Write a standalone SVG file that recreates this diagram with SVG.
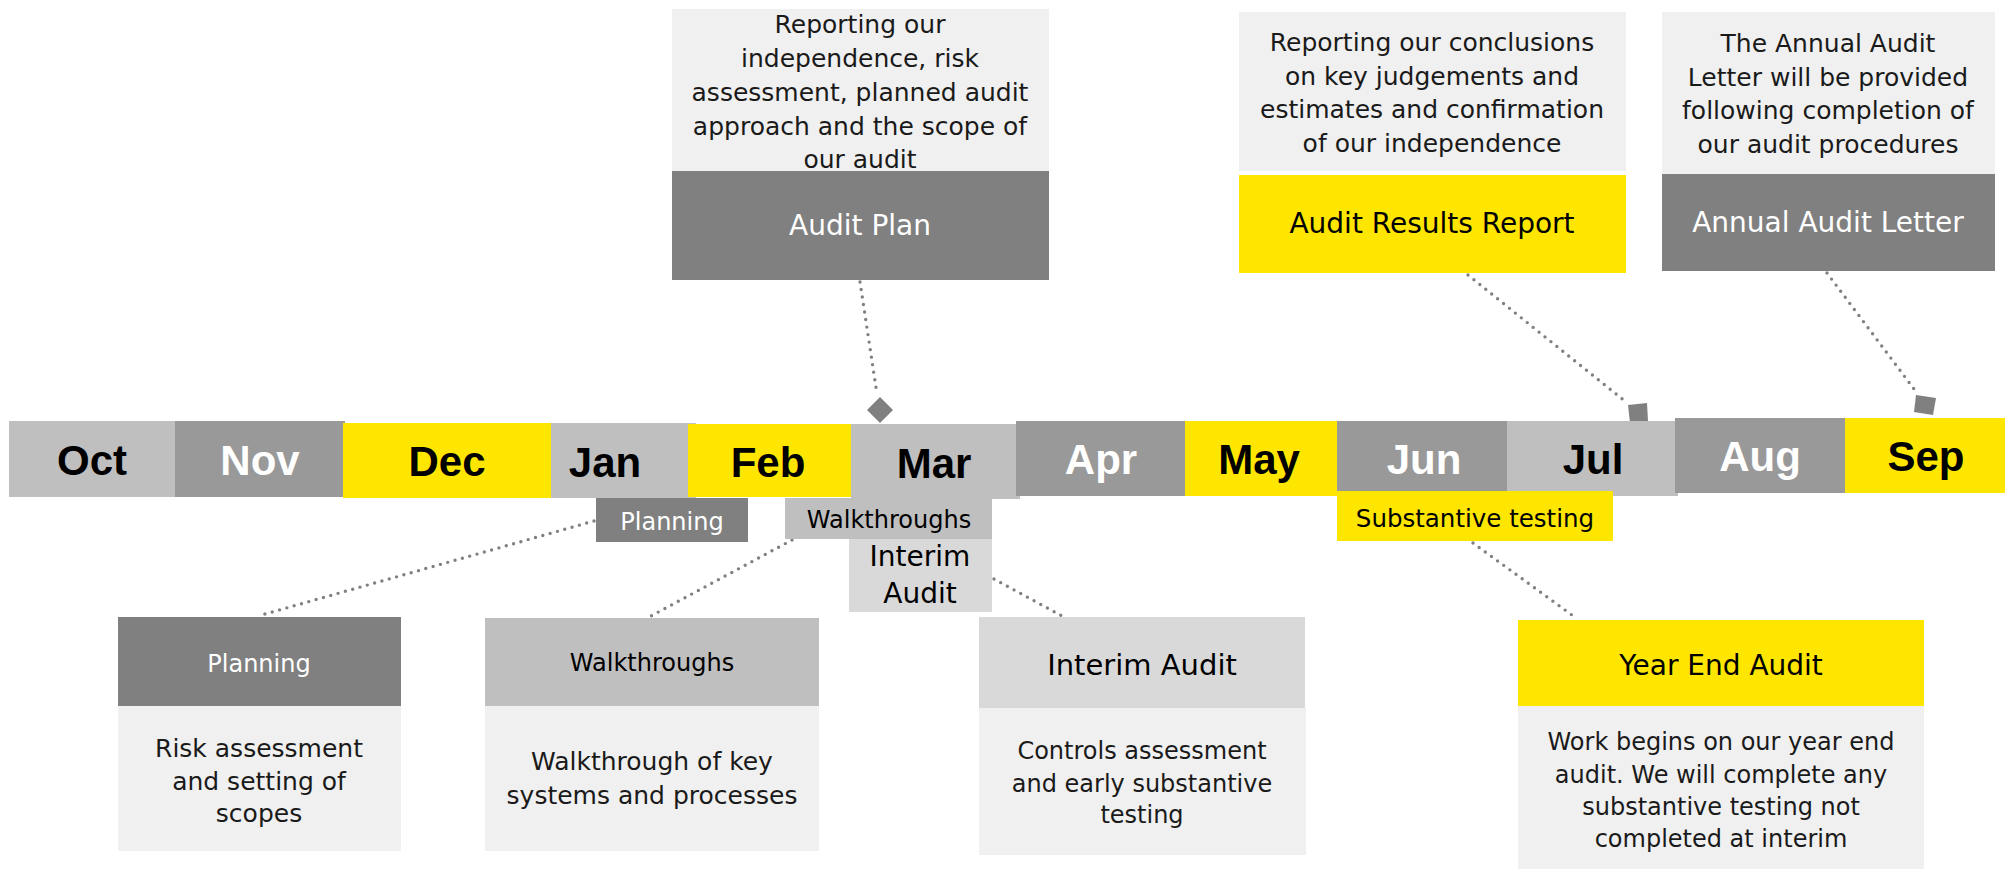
<svg xmlns="http://www.w3.org/2000/svg" width="2013" height="869" viewBox="0 0 2013 869">
<style>
.m{font-family:"Liberation Sans",Arial,sans-serif;font-weight:bold;font-size:42px;text-anchor:middle}
.t{font-family:"DejaVu Sans","Noto Sans",sans-serif;text-anchor:middle}
.h{font-size:28px}
.s{font-size:24px}
.d{font-size:25px;fill:#1a1a1a}
.d2{font-size:24px;fill:#1a1a1a}
.w{fill:#ffffff}
.k{fill:#000000}
.yl{fill:#FFE600}
.g1{fill:#808080}
.g2{fill:#999999}
.g3{fill:#BFBFBF}
.g4{fill:#D9D9D9}
.bg{fill:#F0F0F0}
.c{fill:none;stroke:#808080;stroke-width:3.4;stroke-linecap:round;stroke-dasharray:0 7.6}
.mk{fill:#808080}
</style>
<rect width="2013" height="869" fill="#ffffff"/>

<g id="connectors">
<line class="c" x1="860" y1="282" x2="877" y2="394"/>
<polygon class="mk" points="880,397 893,410 880,423 867,410"/>
<line class="c" x1="1468" y1="275" x2="1626" y2="402"/>
<polygon class="mk" points="1628,405 1647,403 1648,421 1630,423"/>
<line class="c" x1="1827" y1="273" x2="1917" y2="393"/>
<polygon class="mk" points="1916,395 1936,398 1933,415 1914,412"/>
<line class="c" x1="594" y1="521" x2="258" y2="616"/>
<line class="c" x1="792" y1="540" x2="651" y2="616"/>
<line class="c" x1="994" y1="579" x2="1062" y2="616"/>
<line class="c" x1="1473" y1="543" x2="1576" y2="618"/>
</g>

<g id="months">
<g id="oct"><rect class="g3" x="9" y="421" width="166" height="76"/><text class="m k" x="92" y="475">Oct</text></g>
<g id="nov"><rect class="g2" x="175" y="421" width="170" height="76"/><text class="m w" x="260" y="475">Nov</text></g>
<g id="dec"><rect class="yl" x="343" y="423" width="208" height="75"/><text class="m k" x="447" y="476">Dec</text></g>
<g id="jan"><rect class="g3" x="551" y="423" width="145" height="75"/><text class="m k" x="605" y="477">Jan</text></g>
<g id="feb"><rect class="yl" x="688" y="424" width="163" height="73"/><text class="m k" x="768" y="477">Feb</text></g>
<g id="mar"><rect class="g3" x="851" y="424" width="169" height="75"/><text class="m k" x="934" y="478">Mar</text></g>
<g id="apr"><rect class="g2" x="1016" y="421" width="169" height="75"/><text class="m w" x="1101" y="474">Apr</text></g>
<g id="may"><rect class="yl" x="1185" y="421" width="152" height="75"/><text class="m k" x="1259" y="474">May</text></g>
<g id="jun"><rect class="g2" x="1337" y="421" width="170" height="72"/><text class="m w" x="1424" y="474">Jun</text></g>
<g id="jul"><rect class="g3" x="1507" y="421" width="171" height="75"/><text class="m k" x="1593" y="474">Jul</text></g>
<g id="aug"><rect class="g2" x="1675" y="418" width="170" height="75"/><text class="m w" x="1760" y="471">Aug</text></g>
<g id="sep"><rect class="yl" x="1845" y="418" width="160" height="75"/><text class="m k" x="1926" y="471">Sep</text></g>
</g>

<g id="tag-planning"><rect class="g1" x="596" y="498" width="152" height="44"/><text class="t s w" x="672" y="530">Planning</text></g>
<g id="tag-walkthroughs"><rect class="g3" x="785" y="498" width="207" height="41"/><text class="t s k" x="889" y="528">Walkthroughs</text></g>
<g id="tag-interim"><rect class="g4" x="849" y="539" width="143" height="73"/><text class="t h k" x="920" y="566">Interim</text><text class="t h k" x="920" y="603">Audit</text></g>
<g id="tag-substantive"><rect class="yl" x="1337" y="491" width="276" height="50"/><text class="t k" style="font-size:24.5px" x="1475" y="527">Substantive testing</text></g>

<g id="audit-plan">
<rect class="bg" x="672" y="9" width="377" height="162"/>
<text class="t d" x="860" y="33">Reporting our</text>
<text class="t d" x="860" y="67">independence, risk</text>
<text class="t d" x="860" y="101">assessment, planned audit</text>
<text class="t d" x="860" y="135">approach and the scope of</text>
<text class="t d" x="860" y="168">our audit</text>
<rect class="g1" x="672" y="171" width="377" height="109"/>
<text class="t h w" x="860" y="235">Audit Plan</text>
</g>

<g id="audit-results-report">
<rect class="bg" x="1239" y="12" width="387" height="159"/>
<text class="t d" x="1432" y="51">Reporting our conclusions</text>
<text class="t d" x="1432" y="85">on key judgements and</text>
<text class="t d" x="1432" y="118">estimates and confirmation</text>
<text class="t d" x="1432" y="152">of our independence</text>
<rect class="yl" x="1239" y="175" width="387" height="98"/>
<text class="t h k" x="1432" y="233">Audit Results Report</text>
</g>

<g id="annual-audit-letter">
<rect class="bg" x="1662" y="12" width="333" height="162"/>
<text class="t d" x="1828" y="52">The Annual Audit</text>
<text class="t d" x="1828" y="86">Letter will be provided</text>
<text class="t d" x="1828" y="119">following completion of</text>
<text class="t d" x="1828" y="153">our audit procedures</text>
<rect class="g1" x="1662" y="174" width="333" height="97"/>
<text class="t h w" x="1828" y="232">Annual Audit Letter</text>
</g>

<g id="planning">
<rect class="g1" x="118" y="617" width="283" height="89"/>
<text class="t s w" x="259" y="672">Planning</text>
<rect class="bg" x="118" y="706" width="283" height="145"/>
<text class="t d" x="259" y="757">Risk assessment</text>
<text class="t d" x="259" y="790">and setting of</text>
<text class="t d" x="259" y="822">scopes</text>
</g>

<g id="walkthroughs">
<rect class="g3" x="485" y="618" width="334" height="88"/>
<text class="t s k" x="652" y="671">Walkthroughs</text>
<rect class="bg" x="485" y="706" width="334" height="145"/>
<text class="t d" x="652" y="770">Walkthrough of key</text>
<text class="t d" x="652" y="804">systems and processes</text>
</g>

<g id="interim-audit">
<rect class="g4" x="979" y="617" width="326" height="91"/>
<text class="t k" style="font-size:29px" x="1142" y="675">Interim Audit</text>
<rect class="bg" x="979" y="708" width="327" height="147"/>
<text class="t d2" x="1142" y="759">Controls assessment</text>
<text class="t d2" x="1142" y="792">and early substantive</text>
<text class="t d2" x="1142" y="823">testing</text>
</g>

<g id="year-end-audit">
<rect class="yl" x="1518" y="620" width="406" height="86"/>
<text class="t h k" x="1721" y="675">Year End Audit</text>
<rect class="bg" x="1518" y="706" width="406" height="163"/>
<text class="t d2" x="1721" y="750">Work begins on our year end</text>
<text class="t d2" x="1721" y="783">audit. We will complete any</text>
<text class="t d2" x="1721" y="815">substantive testing not</text>
<text class="t d2" x="1721" y="847">completed at interim</text>
</g>
</svg>
